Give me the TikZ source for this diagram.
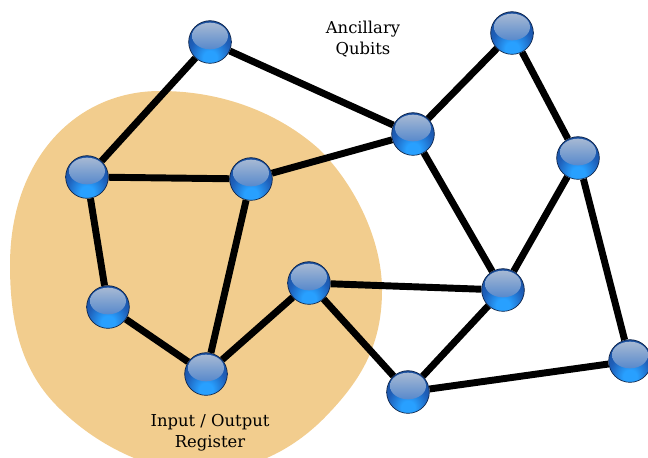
\documentclass[tikz,border=0pt]{standalone}
\usepackage{fontspec}
\setmainfont{DejaVu Serif}
\usetikzlibrary{backgrounds}

\definecolor{blobfill}{RGB}{242,205,142}
\definecolor{qbright}{RGB}{40,160,255}
\definecolor{qmid}{RGB}{30,95,185}
\definecolor{qdark}{RGB}{22,68,142}
\definecolor{qedge}{RGB}{15,35,70}
\definecolor{qtop}{RGB}{172,188,212}
\definecolor{qlow}{RGB}{45,112,200}

\pgfdeclareradialshading{qball}{\pgfpoint{0bp}{-20bp}}{%
  color(0bp)=(qbright); color(8bp)=(qbright); color(24bp)=(qmid);
  color(45bp)=(qdark); color(100bp)=(qdark)}

\tikzset{
  qubit/.style={circle, minimum size=32pt, inner sep=0pt, draw=qedge, line width=0.5pt,
    shading=qball,
    path picture={
      \shade[top color=qtop, bottom color=qlow]
        ([yshift=4.5pt]path picture bounding box.center) ellipse (13.5pt and 10pt);
    }},
  link/.style={line width=5.2pt, draw=black},
  lbl/.style={align=center, font=\fontsize{12.3}{16}\selectfont}
}

\begin{document}
\begin{tikzpicture}[x=0.75pt,y=-0.75pt]
        \useasboundingbox (0,0) rectangle (648,457);

        % qubits
        \foreach \n/\x/\y in {q1/210/42, q2/512/33, q3/413/134, q4/578/158,
                q5/87/177, q6/251/179, q7/309/283, q8/503/290,
                q9/108/307, q10/206/374, q11/408/392, q12/630/361} {
                \node[qubit] (\n) at (\x,\y) {};
        }

        \begin{scope}[on background layer]
        \clip (0,0) rectangle (648,457);
        % register blob
        \fill[blobfill] (160,91) .. controls (230,91) and (285,118) .. (320,150)
                .. controls (355,185) and (382,240) .. (382,290)
                .. controls (382,340) and (365,375) .. (330,412)
                .. controls (295,450) and (250,472) .. (200,472)
                .. controls (150,472) and (95,445) .. (56,405)
                .. controls (20,368) and (10,320) .. (10,265)
                .. controls (10,160) and (75,91) .. (160,91) -- cycle;
        % couplings
        \foreach \a/\b in {q1/q5, q1/q3, q5/q6, q5/q9, q6/q3, q6/q10, q9/q10,
                q10/q7, q7/q8, q7/q11, q2/q3, q3/q8, q2/q4, q4/q8, q4/q12,
                q8/q11, q11/q12} {
                \draw[link] (\a) -- (\b);
        }
        \end{scope}

        \node[lbl] (anc) at (363,39) {Ancillary\\Qubits};
        \node[lbl] (reg) at (210,433) {Input / Output\\Register};
\end{tikzpicture}
\end{document}
